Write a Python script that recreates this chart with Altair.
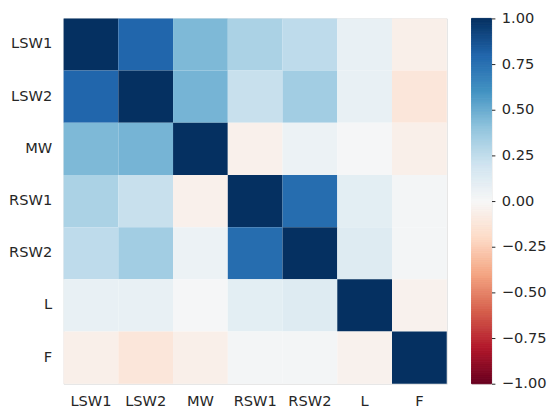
import altair as alt
import numpy as np
import pandas as pd

labels = ["LSW1", "LSW2", "MW", "RSW1", "RSW2", "L", "F"]
row_LSW1 = [1.00, 0.80, 0.45, 0.32, 0.26, 0.08, -0.06]
row_LSW2 = [0.80, 1.00, 0.47, 0.23, 0.35, 0.08, -0.12]
row_MW = [0.45, 0.47, 1.00, -0.05, 0.06, 0.01, -0.06]
row_RSW1 = [0.32, 0.23, -0.05, 1.00, 0.77, 0.105, 0.02]
row_RSW2 = [0.26, 0.35, 0.06, 0.77, 1.00, 0.13, 0.02]
row_L = [0.08, 0.08, 0.01, 0.105, 0.13, 1.00, -0.04]
row_F = [-0.06, -0.12, -0.06, 0.02, 0.02, -0.04, 1.00]
rows = [row_LSW1, row_LSW2, row_MW, row_RSW1, row_RSW2, row_L, row_F]

cbar_ticks = [-1.0, -0.75, -0.5, -0.25, 0.0, 0.25, 0.5, 0.75, 1.0]
rdbu = ["#67001f", "#b2182b", "#d6604d", "#f4a582", "#fddbc7", "#f7f7f7",
        "#d1e5f0", "#92c5de", "#4393c3", "#2166ac", "#053061"]
rdbu_domain = list(np.linspace(-1, 1, 11))

recs = []
for rname, vals in zip(labels, rows):
    for cname, v in zip(labels, vals):
        recs.append({"row": rname, "col": cname, "value": v})
df = pd.DataFrame(recs)

FONT = "DejaVu Sans"
FS = 14.7
TXT = "#262626"
H = 368
W = 386

color_scale = alt.Scale(domain=rdbu_domain, range=rdbu, interpolate="rgb")

heat = alt.Chart(df).mark_rect(strokeWidth=0).encode(
    x=alt.X("col:N", sort=labels, title=None,
            scale=alt.Scale(paddingInner=0, paddingOuter=0),
            axis=alt.Axis(orient="bottom", labelAngle=0, ticks=False, domain=False,
                          labelPadding=10, labelFont=FONT, labelFontSize=FS,
                          labelColor=TXT, grid=False)),
    y=alt.Y("row:N", sort=labels, title=None,
            scale=alt.Scale(paddingInner=0, paddingOuter=0),
            axis=alt.Axis(ticks=False, domain=False, labelPadding=12,
                          labelFont=FONT, labelFontSize=FS, labelColor=TXT, grid=False)),
    color=alt.Color("value:Q", scale=color_scale, legend=None),
).properties(width=W, height=H)

N = 200
edges = np.linspace(-1, 1, N + 1)
cb = pd.DataFrame({"lo": edges[:-1], "hi": edges[1:], "mid": (edges[:-1] + edges[1:]) / 2})

cbar = alt.Chart(cb).mark_rect(strokeWidth=1).encode(
    x=alt.value(0), x2=alt.value(20),
    y=alt.Y("lo:Q", title=None, scale=alt.Scale(domain=[-1, 1], nice=False, zero=False),
            axis=alt.Axis(orient="right", values=cbar_ticks, format=".2f", tickSize=3.5,
                          tickColor=TXT, tickWidth=1, domain=False, grid=False,
                          labelPadding=6.5, labelFont=FONT, labelFontSize=FS,
                          labelColor=TXT)),
    y2="hi:Q",
    color=alt.Color("mid:Q", scale=color_scale, legend=None),
    stroke=alt.Stroke("mid:Q", scale=color_scale, legend=None),
).properties(width=20, height=H)

chart = alt.hconcat(heat, cbar, spacing=23).resolve_scale(
    color="independent", stroke="independent"
).properties(
    padding={"left": 0, "top": 0, "right": 0, "bottom": 0}
).configure_view(stroke=None).configure(background="white")

chart.save("out.html", embed_options={"renderer": "svg", "actions": False})
